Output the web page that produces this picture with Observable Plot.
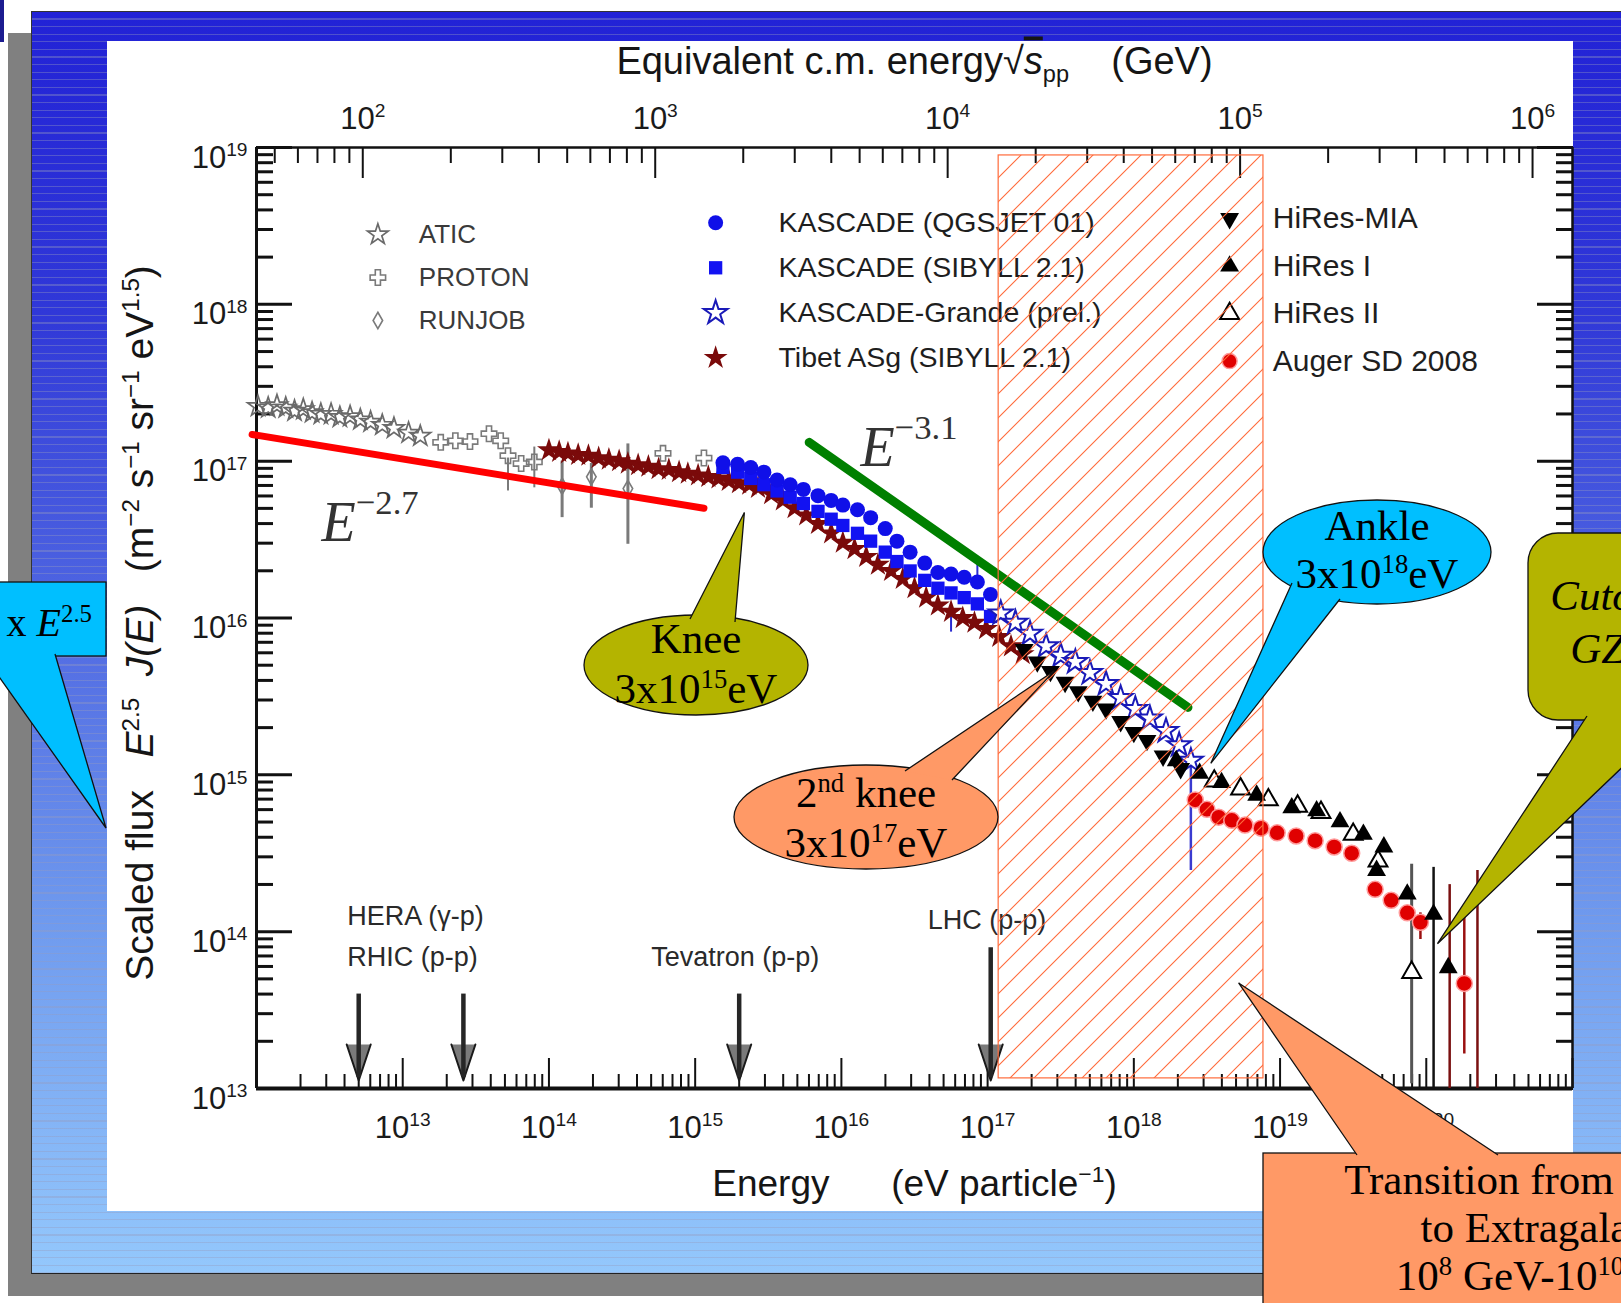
<!DOCTYPE html>
<html>
<head>
<meta charset="utf-8">
<script src="https://cdn.jsdelivr.net/npm/d3@7"></script>
<script src="https://cdn.jsdelivr.net/npm/@observablehq/plot@0.6"></script>
<style>
html, body { margin: 0; padding: 0; background: #fff; }
#stage { position: relative; width: 1621px; height: 1303px; overflow: hidden; background: #fff; }
.bg { position: absolute; }
#darkbar { left: 0; top: 0; width: 4px; height: 42px; background: #1c1c90; }
#shadow { left: 8px; top: 33px; width: 1640px; height: 1263px; background: #808080; }
#slide { left: 31px; top: 11px; width: 1620px; height: 1261px;
  border-top: 1px solid #333; border-left: 1px solid #333; border-bottom: 1px solid #222;
  background:
    repeating-linear-gradient(to bottom, rgba(0,0,0,0) 0px, rgba(0,0,0,0) 6.4px, rgba(150,155,190,0.38) 6.4px, rgba(150,155,190,0.38) 7.6px),
    linear-gradient(to bottom, #2222d6 0%, #3038d8 24%, #5068e2 48%, #6f9aee 72%, #94c8fc 100%); }
#panel { left: 107px; top: 41px; width: 1466px; height: 1170px; background: #fff; }
#chart { position: absolute; left: 0; top: 0; }
</style>
</head>
<body>
<svg width="0" height="0" style="position:absolute">
  <defs>
    <pattern id="hatch" width="24" height="24" patternUnits="userSpaceOnUse">
      <path d="M-6,6 L6,-6 M0,24 L24,0 M18,30 L30,18" stroke="#ff6a3a" stroke-width="1.1" fill="none"/>
    </pattern>
  </defs>
</svg>
<div id="stage">
  <div class="bg" id="darkbar"></div>
  <div class="bg" id="shadow"></div>
  <div class="bg" id="slide"></div>
  <div class="bg" id="panel"></div>
  <div id="chart"></div>
</div>
<script>
// ---------------- DATA (log10 E [eV], log10 E^2.5 J(E), optional error low/high) ----------------
const atic = [[12.01,17.35],[12.08,17.34],[12.14,17.355],[12.20,17.34],[12.26,17.32],[12.32,17.33],[12.38,17.31],[12.44,17.30],[12.51,17.30],[12.57,17.28],[12.64,17.285],[12.71,17.265],[12.78,17.25],[12.86,17.23],[12.94,17.21],[13.04,17.18],[13.12,17.16]];
const proton = [[13.26,17.12],[13.36,17.13],[13.46,17.125],[13.59,17.175],[13.67,17.13],[13.72,17.035,17.02,16.81],[13.81,16.985],[13.90,16.995,17.09,16.83],[14.78,17.05],[15.06,17.02]];
const runjob = [[14.09,16.84,17.00,16.64],[14.29,16.90,16.985,16.70],[14.54,16.825,17.11,16.47]];
const tibet = [[14.00,17.07],[14.07,17.06],[14.13,17.05],[14.20,17.04],[14.27,17.035],[14.34,17.02],[14.41,17.01],[14.48,17.00],[14.54,16.985],[14.61,16.975],[14.68,16.965],[14.75,16.95],[14.82,16.945],[14.89,16.93],[14.95,16.92],[15.02,16.91],[15.09,16.90],[15.16,16.89],[15.23,16.875],[15.30,16.86],[15.37,16.85],[15.43,16.83],[15.52,16.79],[15.60,16.75],[15.68,16.70],[15.76,16.655],[15.84,16.60],[15.93,16.54],[16.01,16.48],[16.09,16.44],[16.17,16.39],[16.25,16.34],[16.34,16.30],[16.42,16.25],[16.50,16.19],[16.58,16.13],[16.66,16.08],[16.75,16.04],[16.83,16.00],[16.91,15.97],[16.99,15.93],[17.08,15.88],[17.16,15.82],[17.24,15.77]];
const kascadeE    = [15.19,15.29,15.38,15.47,15.56,15.65,15.74,15.84,15.93,16.01,16.11,16.20,16.30,16.38,16.47,16.57,16.66,16.75,16.84,16.93,17.02];
const kascadeQGSF = [16.99,16.98,16.96,16.93,16.88,16.85,16.82,16.78,16.75,16.72,16.69,16.64,16.57,16.49,16.42,16.35,16.29,16.28,16.26,16.23,16.15];
const kascadeSIBF = [16.96,16.93,16.89,16.85,16.81,16.77,16.73,16.68,16.63,16.59,16.54,16.49,16.42,16.36,16.30,16.24,16.19,16.16,16.13,16.09,16.01];
const kascadeErr = [[16.75,16.07,15.91],[16.93,16.35,16.22]];
const grande = [[17.09,16.03],[17.19,15.97],[17.29,15.90],[17.40,15.82],[17.50,15.76],[17.60,15.72],[17.70,15.65],[17.81,15.58],[17.91,15.49],[18.01,15.42],[18.11,15.36],[18.22,15.28],[18.31,15.19],[18.39,15.09,15.15,14.39]];
const hiresMIA = [[17.25,15.80],[17.34,15.72],[17.43,15.66],[17.53,15.59],[17.62,15.53],[17.72,15.47],[17.81,15.42],[17.91,15.34],[18.00,15.27],[18.09,15.22],[18.20,15.12],[18.32,15.04]];
const hiresI = [[18.29,15.09],[18.45,15.01],[18.60,14.95],[18.84,14.87],[19.08,14.79],[19.25,14.77],[19.41,14.70],[19.57,14.62],[19.71,14.54],[19.66,14.39],[19.87,14.24],[20.05,14.11,14.41,13.0],[20.15,13.77]];
const hiresII = [[18.55,14.96],[18.73,14.91],[18.92,14.84],[19.12,14.80],[19.28,14.76],[19.50,14.62],[19.67,14.45],[19.90,13.74,14.43,13.03]];
const auger = [[18.42,14.84],[18.50,14.78],[18.58,14.73],[18.67,14.71],[18.76,14.68],[18.87,14.66],[18.98,14.63],[19.11,14.61],[19.24,14.58],[19.37,14.54],[19.49,14.50],[19.65,14.27],[19.76,14.20],[19.87,14.12],[19.96,14.06,14.12,13.95],[20.26,13.67,14.11,13.22]];
const augerLimits = [[20.16,14.30,13.0],[20.35,14.39,13.0]];

// transition band (hatched) in eV / flux
const transitionBand = [{e1: 1.19e17, e2: 7.7e18, f1: 1.16e13, f2: 8.9e18}];

// power laws (log10 E, log10 flux end points)
const lawRed = [[11.97,17.17],[15.06,16.70]];
const lawGreen = [[15.78,17.12],[18.37,15.43]];
const lawLabels = [{t: "*{E}^{−2.7}", e: 12.445, f: 16.49}, {t: "*{E}^{−3.1}", e: 16.13, f: 16.97}];

// accelerators
const accNames = ["HERA (γ-p)", "RHIC (p-p)", "Tevatron (p-p)", "LHC (p-p)"];
const accE     = [5.0e12, 2.6e13, 2.0e15, 1.05e17];
const accTop   = [4.0e13, 4.0e13, 4.0e13, 7.9e13];
const accLabelE = [12.62, 12.62, 14.70, 16.59];
const accLabelF = [14.04, 13.78, 13.78, 14.02];

// axis tick values
const xMajorExp = [12,13,14,15,16,17,18,19,20,21];
const xLabelExp = [13,14,15,16,17,18,19,20];
const yMajorExp = [13,14,15,16,17,18,19];
const sqrtsMajorExp = [2,3,4,5,6];
const mp = 0.938; // GeV
const sqrtsToE = s => s * s / (2 * mp) * 1e9;

// legend
const legend1 = ["ATIC", "PROTON", "RUNJOB"];
const legend2 = ["KASCADE (QGSJET 01)", "KASCADE (SIBYLL 2.1)", "KASCADE-Grande (prel.)", "Tibet ASg (SIBYLL 2.1)"];
const legend3 = ["HiRes-MIA", "HiRes I", "HiRes II", "Auger SD 2008"];

// ---------------- STYLES ----------------
const S = {
  "ATIC":   {symbol:"star", fill:"none", stroke:"#6a6a6a", sw:1.7, r:6.5},
  "PROTON": {symbol:"cross", fill:"none", stroke:"#7a7a7a", sw:1.6, r:6.5},
  "RUNJOB": {symbol:"diamond", fill:"none", stroke:"#7a7a7a", sw:1.6, r:5},
  "KASCADE (QGSJET 01)": {symbol:"circle", fill:"#1010e8", stroke:"none", r:7.5},
  "KASCADE (SIBYLL 2.1)": {symbol:"square", fill:"#1212f2", stroke:"none", r:7.5},
  "KASCADE-Grande (prel.)": {symbol:"star", fill:"white", stroke:"#1a1ab8", sw:2, r:7.5},
  "Tibet ASg (SIBYLL 2.1)": {symbol:"star", fill:"#7a0a0a", stroke:"none", r:7.5},
  "HiRes-MIA": {symbol:"triangle", rotate:180, fill:"#000", stroke:"none", r:7},
  "HiRes I":   {symbol:"triangle", fill:"#000", stroke:"none", r:7},
  "HiRes II":  {symbol:"triangle", fill:"white", stroke:"#000", sw:2, r:7},
  "Auger SD 2008": {symbol:"circle", fill:"#e00000", stroke:"#ff9a9a", sw:1.5, r:8}
};
const P = d => 10 ** d;
function dots(data, key, extra = {}) {
  const st = S[key];
  return Plot.dot(data, {x: d => P(d[0]), y: d => P(d[1]), symbol: st.symbol, fill: st.fill,
    stroke: st.stroke, strokeWidth: st.sw ?? 1, r: st.r, rotate: st.rotate ?? 0, ...extra});
}
function errs(data, color, w = 1.6) {
  return Plot.ruleX(data.filter(d => d.length > 2), {x: d => P(d[0]), y1: d => P(d[d.length - 2]), y2: d => P(d[d.length - 1]), stroke: color, strokeWidth: w});
}
function legendMarks(labels, symE, txtE, f0, step, size, color) {
  const m = [];
  labels.forEach((lab, i) => {
    const st = S[lab];
    m.push(Plot.dot([lab], {x: () => P(symE), y: () => P(f0 - step * i), symbol: st.symbol, fill: st.fill,
      stroke: st.stroke, strokeWidth: st.sw ?? 1, r: Math.min(st.r, 7.5), rotate: st.rotate ?? 0}));
  });
  m.push(Plot.text(labels, {x: () => P(txtE), y: (d, i) => P(f0 - step * i), text: d => d, textAnchor: "start",
    fontSize: size, fill: color}));
  return m;
}

const xMinor = [], yMinor = [], sMinor = [];
for (let d = 12; d < 21; d++) for (let k = 2; k <= 9; k++) xMinor.push(k * 10 ** d);
for (let d = 13; d < 19; d++) for (let k = 2; k <= 9; k++) yMinor.push(k * 10 ** d);
for (let k = 5; k <= 9; k++) sMinor.push(k * 10);
for (let d = 2; d < 6; d++) for (let k = 2; k <= 9; k++) sMinor.push(k * 10 ** d);

const kascadeQGS = kascadeE.map((e, i) => [e, kascadeQGSF[i]]);
const kascadeSIB = kascadeE.map((e, i) => [e, kascadeSIBF[i]]);
const acc = accNames.map((n, i) => ({name: n, e: accE[i], top: accTop[i], le: accLabelE[i], lf: accLabelF[i]}));

const tickStyle = {fill: "none", label: null, stroke: "#111"};
const plot = Plot.plot({
  width: 1621, height: 1303,
  marginLeft: 256, marginRight: 49, marginTop: 147, marginBottom: 215,
  x: {type: "log", domain: [1e12, 1e21]},
  y: {type: "log", domain: [1e13, 1e19]},
  style: {background: "transparent", fontFamily: "'Liberation Sans', Arial, sans-serif", color: "#151515", overflow: "visible"},
  marks: [
    // ticks (inward)
    Plot.axisX(xMajorExp.map(P), {anchor: "bottom", tickSize: -30, strokeWidth: 2, ...tickStyle}),
    Plot.axisX(xMinor, {anchor: "bottom", tickSize: -14, strokeWidth: 2, ...tickStyle}),
    Plot.axisX(sqrtsMajorExp.map(e => sqrtsToE(P(e))), {anchor: "top", tickSize: -30, strokeWidth: 2, ...tickStyle}),
    Plot.axisX(sMinor.map(sqrtsToE), {anchor: "top", tickSize: -15, strokeWidth: 2, ...tickStyle}),
    Plot.axisY(yMajorExp.map(P), {anchor: "left", tickSize: -36, strokeWidth: 3, ...tickStyle}),
    Plot.axisY(yMinor, {anchor: "left", tickSize: -17, strokeWidth: 3, ...tickStyle}),
    Plot.axisY(yMajorExp.map(P), {anchor: "right", tickSize: -36, strokeWidth: 3, ...tickStyle}),
    Plot.axisY(yMinor, {anchor: "right", tickSize: -17, strokeWidth: 3, ...tickStyle}),
    // frame
    Plot.ruleX([1e12], {strokeWidth: 3, stroke: "#111"}),
    Plot.ruleX([1e21], {strokeWidth: 2.5, stroke: "#111"}),
    Plot.ruleY([1e13], {strokeWidth: 4, stroke: "#111"}),
    Plot.ruleY([1e19], {strokeWidth: 2.5, stroke: "#111"}),
    // tick labels
    Plot.text(xLabelExp, {x: e => P(e), text: e => `10^{${e}}`, frameAnchor: "bottom", dy: 49, lineAnchor: "bottom", textAnchor: "middle", fontSize: 31, fill: "#1a1a1a"}),
    Plot.text(sqrtsMajorExp, {x: e => sqrtsToE(P(e)), text: e => `10^{${e}}`, frameAnchor: "top", dy: -19, lineAnchor: "bottom", textAnchor: "middle", fontSize: 31, fill: "#1a1a1a"}),
    Plot.text(yMajorExp, {y: e => P(e), text: e => `10^{${e}}`, frameAnchor: "left", dx: -9, dy: 20, lineAnchor: "bottom", textAnchor: "end", fontSize: 31, fill: "#1a1a1a"}),
    // axis titles
    Plot.text(["Equivalent c.m. energy√~{s}_{pp}\u00a0\u00a0\u00a0\u00a0(GeV)"], {text: d => d, frameAnchor: "top", dy: -74, lineAnchor: "bottom", textAnchor: "middle", fontSize: 38}),
    Plot.text(["Energy\u00a0\u00a0\u00a0\u00a0\u00a0\u00a0(eV particle^{−1})"], {text: d => d, frameAnchor: "bottom", dy: 107, lineAnchor: "bottom", textAnchor: "middle", fontSize: 37}),
    Plot.text(["Scaled flux\u00a0\u00a0\u00a0*{E}^{2.5}\u00a0\u00a0*{J(E)}\u00a0\u00a0\u00a0(m^{−2} s^{−1} sr^{−1} eV^{1.5})"], {text: d => d, frameAnchor: "left", dx: -104, dy: 5, rotate: -90, lineAnchor: "bottom", textAnchor: "middle", fontSize: 39}),
    // error bars
    errs(proton, "#7a7a7a", 2), errs(runjob, "#7a7a7a", 3),
    errs(kascadeErr.map(d => [d[0], 0, d[1], d[2]]), "#2a2ad0", 2),
    errs(grande, "#3a3ad0", 2.5),
    errs(augerLimits.map(d => [d[0], 0, d[1], d[2]]), "#7a1010", 2.5),
    errs(auger, "#9a1010", 2.5),
    errs(hiresI, "#111", 2.5), errs(hiresII, "#555", 3),
    // data
    dots(atic, "ATIC"), dots(proton, "PROTON"), dots(runjob, "RUNJOB"),
    dots(tibet, "Tibet ASg (SIBYLL 2.1)"),
    dots(kascadeSIB, "KASCADE (SIBYLL 2.1)"), dots(kascadeQGS, "KASCADE (QGSJET 01)"),
    dots(grande, "KASCADE-Grande (prel.)"),
    dots(hiresMIA, "HiRes-MIA"),
    dots(auger, "Auger SD 2008"),
    dots(hiresII, "HiRes II"), dots(hiresI, "HiRes I"),
    // power laws
    Plot.line(lawRed, {x: d => P(d[0]), y: d => P(d[1]), stroke: "#ff0000", strokeWidth: 7}),
    Plot.line(lawGreen, {x: d => P(d[0]), y: d => P(d[1]), stroke: "#008000", strokeWidth: 9}),
    Plot.text(lawLabels, {x: d => P(d.e), y: d => P(d.f), text: d => d.t, textAnchor: "start", lineAnchor: "bottom", fontFamily: "'Liberation Serif', 'Times New Roman', serif", fontSize: 56, fill: "#333"}),
    // accelerators
    Plot.vector(acc, {x: d => d.e, y: 1e13, dy: -8, length: 36, r: 12, rotate: 180, anchor: "end", shape: "spike", fill: "#7a7a7a", stroke: "#1a1a1a", strokeWidth: 2}),
    Plot.ruleX(acc, {x: d => d.e, y1: d => d.top, y2: 1e13, stroke: "#262626", strokeWidth: 4.5, insetBottom: 11}),
    Plot.text(acc, {x: d => P(d.le), y: d => P(d.lf), text: d => d.name, textAnchor: "start", lineAnchor: "bottom", fontSize: 27, fill: "#2a2a2a"}),
    // legend
    ...legendMarks(legend1, 12.83, 13.11, 18.445, 0.274, 26, "#3a3a3a"),
    ...legendMarks(legend2, 15.14, 15.57, 18.52, 0.287, 28.5, "#1e1e1e"),
    ...legendMarks(legend3, 18.655, 18.95, 18.547, 0.303, 30, "#1e1e1e"),
    // hatched transition region
    Plot.rect(transitionBand, {x1: "e1", x2: "e2", y1: "f1", y2: "f2", fill: "url(#hatch)", stroke: "#ff6a3a", strokeWidth: 1.2})
  ]
});
document.getElementById("chart").appendChild(plot);

// ---------------- rich text (superscripts / subscripts / italics) ----------------
const NS = "http://www.w3.org/2000/svg";
function richify(el) {
  const s = el.textContent;
  if (!/[\^_*~]\{/.test(s)) return;
  const fs = parseFloat(getComputedStyle(el).fontSize) || 16;
  const raise = fs >= 50 ? 0.48 : 0.36;
  while (el.firstChild) el.removeChild(el.firstChild);
  const re = /([\^_*~])\{([^}]*)\}/g;
  let last = 0, m, shift = 0;
  const add = (str, kind) => {
    if (!str) return;
    const t = document.createElementNS(NS, "tspan");
    t.textContent = str;
    let target = 0;
    if (kind === "^") { t.setAttribute("font-size", (fs * 0.62).toFixed(1)); target = -fs * raise; }
    else if (kind === "_") { t.setAttribute("font-size", (fs * 0.62).toFixed(1)); target = fs * 0.22; }
    else if (kind === "*") t.setAttribute("font-style", "italic");
    else if (kind === "~") { t.setAttribute("font-style", "italic"); t.setAttribute("text-decoration", "overline"); }
    const d = target - shift;
    if (d) t.setAttribute("dy", d.toFixed(1));
    shift = target;
    el.appendChild(t);
  };
  while ((m = re.exec(s))) { add(s.slice(last, m.index), ""); add(m[2], m[1]); last = re.lastIndex; }
  add(s.slice(last), "");
}

// ---------------- callouts ----------------
const svg = d3.select(plot);
const X = plot.scale("x"), Y = plot.scale("y");
const tipAt = (le, lf) => [X.apply(P(le)), Y.apply(P(lf))];
const g = svg.append("g").attr("class", "callouts");
const serif = "'Liberation Serif', 'Times New Roman', serif";
function callout(c) {
  const grp = g.append("g");
  if (c.ellipse) {
    const [cx, cy, rx, ry] = c.ellipse;
    grp.append("ellipse").attr("cx", cx).attr("cy", cy).attr("rx", rx).attr("ry", ry)
      .attr("fill", c.fill).attr("stroke", "#111").attr("stroke-width", 1.3);
  } else {
    const [x, y, w, h, rr] = c.rect;
    grp.append("rect").attr("x", x).attr("y", y).attr("width", w).attr("height", h).attr("rx", rr).attr("ry", rr)
      .attr("fill", c.fill).attr("stroke", "#111").attr("stroke-width", 1.3);
  }
  const [a, b] = c.base, t = c.tip;
  grp.append("path").attr("d", `M${a[0]},${a[1]}L${t[0]},${t[1]}L${b[0]},${b[1]}`)
    .attr("fill", c.fill).attr("stroke", "#111").attr("stroke-width", 1.3);
  c.lines.forEach(([txt, x, y]) => {
    grp.append("text").attr("x", x).attr("y", y).attr("text-anchor", c.anchor || "middle")
      .attr("font-family", serif).attr("font-size", c.size || 43).attr("fill", "#000").text(txt);
  });
}
const callouts = [
  {ellipse: [696, 665, 112, 50], fill: "#b4b400", base: [[690, 619], [735, 622]], tip: tipAt(15.34, 16.67),
   lines: [["Knee", 696, 653], ["3x10^{15}eV", 696, 703]]},
  {ellipse: [866, 817, 132, 52], fill: "#ff9966", base: [[905, 771], [952, 780]], tip: tipAt(17.46, 15.66),
   lines: [["2^{nd} knee", 866, 807], ["3x10^{17}eV", 866, 857]]},
  {ellipse: [1377, 552, 114, 52], fill: "#00bfff", base: [[1292, 583], [1340, 599]], tip: tipAt(18.53, 15.07),
   lines: [["Ankle", 1377, 540], ["3x10^{18}eV", 1377, 588]]},
  {rect: [1528, 533, 166, 187, 30], fill: "#b4b400", base: [[1587, 716], [1676, 716]], tip: tipAt(20.08, 13.92),
   lines: [["*{Cutoff}", 1604, 610], ["*{GZK}", 1612, 663]]},
  {rect: [1263, 1153, 460, 200, 0], fill: "#ff9966", base: [[1357, 1155], [1498, 1155]], tip: tipAt(18.72, 13.67),
   lines: [["Transition from Galactic", 1556, 1194], ["to Extragalactic", 1556, 1242], ["10^{8} GeV-10^{10} GeV", 1556, 1290]]},
  {rect: [-20, 582, 126, 74, 0], fill: "#00bfff", base: [[-17, 654], [55, 654]], tip: [106, 828],
   lines: [["Flux x *{E}^{2.5}", 92, 636]], anchor: "end", size: 40}
];
callouts.forEach(callout);

svg.selectAll("text").each(function () { richify(this); });
</script>
</body>
</html>
